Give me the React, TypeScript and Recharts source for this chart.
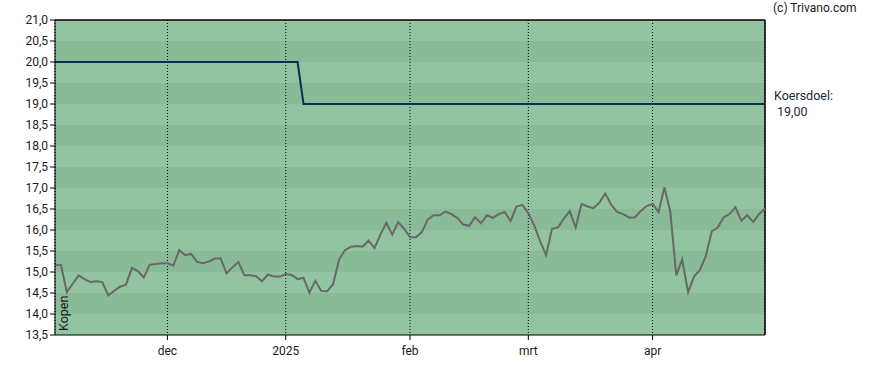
import { LineChart, Line, XAxis, YAxis, CartesianGrid, ReferenceLine } from 'recharts'

const prices = [
  15.16, 15.17, 14.52, 14.72, 14.92, 14.83, 14.76, 14.78, 14.76, 14.44,
  14.55, 14.65, 14.7, 15.1, 15.02, 14.87, 15.17, 15.19, 15.21, 15.21,
  15.15, 15.52, 15.4, 15.43, 15.24, 15.21, 15.25, 15.32, 15.32, 14.97,
  15.11, 15.24, 14.92, 14.92, 14.9, 14.78, 14.94, 14.89, 14.89, 14.95,
  14.93, 14.83, 14.86, 14.51, 14.79, 14.55, 14.54, 14.71, 15.29, 15.52,
  15.6, 15.62, 15.6, 15.75, 15.57, 15.89, 16.17, 15.89, 16.19, 16.03,
  15.83, 15.83, 15.95, 16.25, 16.35, 16.35, 16.44, 16.38, 16.29, 16.13,
  16.1, 16.3, 16.16, 16.35, 16.29, 16.38, 16.43, 16.21, 16.56, 16.6,
  16.4, 16.11, 15.73, 15.4, 16.03, 16.06, 16.27, 16.45, 16.06, 16.62,
  16.56, 16.52, 16.65, 16.87, 16.6, 16.43, 16.38, 16.3, 16.3, 16.45,
  16.57, 16.62, 16.43, 17.02, 16.43, 14.92, 15.3, 14.52, 14.89, 15.05,
  15.38, 15.97, 16.06, 16.3, 16.38, 16.54, 16.22, 16.35, 16.19, 16.38,
  16.51,
]

// koersdoel: 20 tot en met index 41, daarna 19
const targetBefore = 20
const targetAfter = 19
const targetChangeIndex = 42

const monthTicks = [19, 39, 60, 80, 101]
const monthLabels = ['dec', '2025', 'feb', 'mrt', 'apr']
const yTicks = [13.5, 14, 14.5, 15, 15.5, 16, 16.5, 17, 17.5, 18, 18.5, 19, 19.5, 20, 20.5, 21]

const data = prices.map((p, i) => ({
  i,
  koers: p,
  doel: i < targetChangeIndex ? targetBefore : targetAfter,
}))

const lastIndex = prices.length - 1
const fmt = (v: number) => v.toFixed(1).replace('.', ',')

export default function App() {
  const tickStyle = { fill: '#1a1a1a', fontSize: 12 }
  return (
    <div style={{ position: 'absolute', left: 0, top: 0, width: 888, height: 370, fontFamily: 'Roboto, sans-serif', background: '#fff' }}>
      <LineChart width={888} height={370} data={data} margin={{ top: 20, right: 123, bottom: 0, left: 0 }}>
        <CartesianGrid vertical={false} stroke="none" horizontalFill={['#93c4a2', '#8abb98']} fillOpacity={1} />
        <CartesianGrid horizontal={false} stroke="#000" strokeDasharray="1 2" />
        <XAxis
          dataKey="i"
          type="number"
          domain={[0, lastIndex]}
          ticks={monthTicks}
          tickFormatter={(v) => monthLabels[monthTicks.indexOf(v)] ?? ''}
          height={35}
          tickSize={5}
          tickMargin={6}
          tick={tickStyle}
          stroke="#000"
          interval={0}
        />
        <YAxis
          type="number"
          domain={[13.5, 21]}
          ticks={yTicks}
          tickFormatter={fmt}
          width={55}
          tickSize={5}
          tickMargin={2}
          tick={tickStyle}
          stroke="#000"
          interval={0}
          allowDataOverflow
        />
        <ReferenceLine x={lastIndex} stroke="#000" strokeWidth={1.5} />
        <ReferenceLine y={21} stroke="#000" strokeWidth={1.5} />
        <Line dataKey="doel" type="linear" stroke="#0a2f50" strokeWidth={2} dot={false} isAnimationActive={false} />
        <Line dataKey="koers" type="linear" stroke="#686868" strokeWidth={2} dot={false} isAnimationActive={false} />
      </LineChart>
      <div style={{ position: 'absolute', left: 773, top: 1, fontSize: 12, color: '#1a1a1a' }}>(c) Trivano.com</div>
      <div style={{ position: 'absolute', left: 774, top: 88, fontSize: 12.5, color: '#1a2838', lineHeight: '16px' }}>
        Koersdoel:
        <br />
        <span style={{ marginLeft: 3 }}>19,00</span>
      </div>
      <div
        style={{
          position: 'absolute',
          left: 63.5,
          top: 331,
          fontSize: 12.5,
          color: '#1a1a1a',
          transform: 'rotate(-90deg)',
          transformOrigin: '0 0',
          lineHeight: '12px',
          whiteSpace: 'nowrap',
          marginLeft: -6,
        }}
      >
        Kopen
      </div>
    </div>
  )
}
